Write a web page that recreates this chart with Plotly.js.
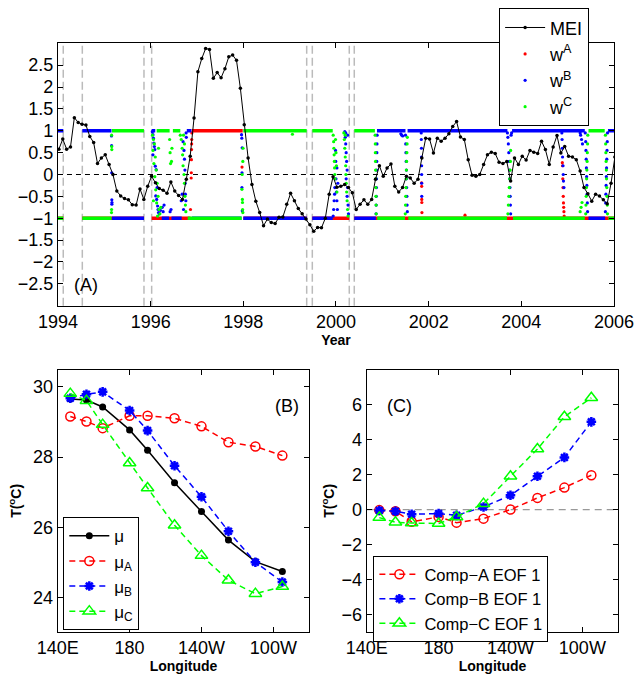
<!DOCTYPE html>
<html><head><meta charset="utf-8">
<script src="https://cdn.plot.ly/plotly-3.0.1.min.js"></script>
<style>html,body{margin:0;padding:0;background:#fff}#chart{width:635px;height:674px}</style>
</head><body><div id="chart"></div>
<script>
// ---------------- Panel A data ----------------
// MEI, monthly values starting Jan 1994
const mei = [0.58,0.81,0.58,0.63,1.30,1.19,1.15,1.13,0.87,0.73,0.25,0.38,
0.45,0.23,0.00,-0.38,-0.49,-0.55,-0.58,-0.69,-0.70,-0.33,-0.57,-0.27,
-0.04,-0.19,-0.32,-0.36,-0.43,-0.17,-0.38,-0.48,-0.57,-0.11,0.42,1.29,
2.35,2.65,2.88,2.86,2.20,2.33,2.21,2.42,2.69,2.73,2.61,1.97,
1.14,0.38,-0.23,-0.61,-0.87,-1.17,-1.02,-1.10,-1.12,-0.98,-0.97,-0.68,
-0.43,-0.60,-0.78,-0.90,-1.02,-1.15,-1.30,-1.21,-1.22,-1.00,-0.45,-0.05,
-0.29,-0.27,-0.23,-0.30,-0.42,-0.80,-0.68,-0.58,-0.68,-0.57,-0.11,0.20,
-0.04,0.15,0.24,-0.27,-0.40,-0.30,-0.04,-0.08,-0.20,-0.11,0.38,0.83,
0.81,0.49,0.83,0.76,0.83,0.93,1.10,1.21,0.86,0.80,0.34,-0.02,
-0.04,0.00,0.23,0.45,0.51,0.48,0.28,0.25,0.30,-0.15,0.38,0.23,
0.42,0.33,0.55,0.51,0.48,0.76,0.57,0.23,0.63,0.89,0.49,0.64,
0.42,0.40,0.34,0.08,-0.30,-0.44,-0.61,-0.45,-0.49,-0.58,-0.67,-0.20,
0.40];
const meiYear = mei.map((_, k) => 1994.02 + k / 12);

// data gaps (dashed grey lines)
const gapYears = [1994.114, 1994.525, 1995.856, 1996.022, 1999.368, 1999.489, 2000.287, 2000.395];

// weight runs: start year, end year, value
const wA_runStart = [1994.0, 1994.525, 1996.022, 1996.886, 1998.0, 1999.489, 2000.395];
const wA_runEnd   = [1994.114, 1995.856, 1996.86, 1997.987, 1999.368, 2000.287, 2006.0];
const wA_runVal   = [-1, -1, -1, 1, -1, -1, -1];

const wB_runStart = [1994.0, 1994.525, 1995.165, 1996.022, 1996.24, 1996.45, 1996.78, 1996.89, 1998.0, 1999.489, 2000.395, 2000.885, 2001.545, 2003.80, 2005.45, 2005.87];
const wB_runEnd   = [1994.114, 1995.155, 1995.856, 1996.10, 1996.40, 1996.67, 1996.88, 1997.96, 1999.368, 1999.93, 2000.86, 2001.50, 2003.70, 2005.37, 2005.81, 2006.0];
const wB_runVal   = [1, 1, -1, 1, -1, -1, 1, -1, -1, -1, -1, 1, 1, 1, -1, 1];

const wC_runStart = [1994.0, 1994.525, 1995.165, 1996.13, 1996.48, 1996.80, 1998.0, 1999.489, 2000.395, 2000.89, 2001.56, 2003.82, 2005.45, 2005.88];
const wC_runEnd   = [1994.114, 1995.155, 1995.856, 1996.41, 1996.64, 1997.965, 1999.368, 1999.93, 2000.84, 2001.49, 2003.69, 2005.37, 2005.80, 2006.0];
const wC_runVal   = [-1, -1, 1, 1, 1, -1, 1, 1, 1, -1, -1, -1, 1, -1];

// scattered samples during regime changes
const wA_dotT = [1996.86,1996.875,1996.878,1996.88,1996.883,1996.885,1996.887,1996.89,1997.972,
2001.848,2001.85,2001.852,2001.853,2001.855,2002.785,
2004.885,2004.89,2004.895,2004.9,2004.905,2004.91,2004.915,2004.92,2004.925];
const wA_dotV = [-0.8,-0.08,0.04,0.34,0.57,0.7,0.8,0.95,0.17,
-0.19,-0.27,-0.57,-0.64,-0.87,-0.93,
0.27,0.2,-0.1,-0.3,-0.5,-0.65,-0.75,-0.85,-0.95];

const wB_dotT = [1995.155,1995.158,1995.16,1995.162,1995.165,1995.163,
1996.036,1996.05,1996.06,1996.07,1996.08,1996.09,1996.05,1996.10,1996.12,1996.11,1996.14,1996.13,1996.15,1996.16,1996.17,1996.19,1996.21,
1996.25,1996.27,1996.29,1996.42,1996.44,
1996.66,1996.68,1996.70,1996.71,1996.72,1996.73,1996.74,1996.745,1996.75,1996.76,1996.77,1996.765,
1997.962,1997.968,1997.975,1997.972,1997.97,1997.978,
1999.94,1999.95,1999.96,1999.97,1999.975,1999.99,1999.995,2000.0,2000.01,2000.02,2000.03,2000.04,2000.02,
2000.19,2000.2,2000.21,2000.22,2000.23,2000.24,2000.22,2000.25,2000.24,2000.26,2000.27,2000.21,2000.25,
2000.865,2000.868,2000.87,2000.873,2000.875,2000.878,2000.88,2000.882,2000.885,2000.888,
2001.40,2001.42,2001.44,
2001.50,2001.505,2001.51,2001.515,2001.52,2001.52,2001.525,2001.53,2001.535,2001.54,
2001.84,2001.842,2001.845,2001.846,2001.848,2001.85,2001.85,2001.852,
2003.70,2003.71,2003.72,2003.73,2003.74,2003.745,2003.75,2003.755,2003.76,2003.765,2003.77,2003.78,2003.79,
2004.875,2004.88,2004.885,2004.89,2004.9,2004.905,2004.91,2004.92,
2005.27,2005.28,2005.3,2005.32,
2005.38,2005.39,2005.395,2005.4,2005.405,2005.41,2005.415,2005.42,2005.425,2005.43,
2005.815,2005.82,2005.825,2005.83,2005.835,2005.84,2005.845,2005.85,2005.855,2005.86];
const wB_dotV = [0.88,0.66,0.04,-0.58,-0.64,-0.68,
0.98,0.91,0.83,0.72,0.64,0.57,0.45,0.19,0.11,-0.49,-0.3,-0.57,-0.72,-0.8,-0.87,-0.9,-0.82,
-0.75,-0.85,-0.7,-0.85,-0.8,
-0.6,-0.45,0.75,-0.8,0.55,0.35,0.1,-0.2,-0.45,-0.6,0.85,0.95,
0.91,0.83,0.61,0.04,-0.3,-0.83,
-0.95,-0.8,-0.6,-0.45,-0.3,0.55,0.3,-0.1,-0.4,-0.6,-0.8,-0.2,0.15,
0.98,0.85,0.7,0.5,0.3,0.1,-0.1,-0.3,-0.5,-0.7,-0.9,0.95,0.9,
-0.9,-0.7,-0.5,-0.3,-0.1,0.1,0.3,0.5,0.7,0.9,
0.93,0.9,0.88,
0.9,0.7,0.5,0.3,0.1,-0.1,-0.3,-0.5,-0.7,-0.85,
0.95,0.8,0.6,0.4,0.2,0.0,-0.2,-0.5,
0.95,0.85,0.7,0.5,0.3,0.1,-0.1,-0.3,-0.5,-0.7,-0.9,0.9,0.95,
0.95,0.8,0.6,0.4,0.2,0.0,-0.15,-0.3,
0.95,0.9,0.8,0.7,
0.95,0.75,0.55,0.35,0.15,-0.05,-0.25,-0.45,-0.65,-0.85,
-0.85,-0.65,-0.45,-0.25,-0.05,0.15,0.35,0.55,0.75,0.95];

const wC_dotT = [1995.158,1995.16,1995.162,1995.155,1995.157,
1996.04,1996.06,1996.08,1996.05,1996.1,1996.07,1996.12,1996.09,1996.14,1996.11,1996.16,1996.13,1996.18,1996.15,1996.2,1996.22,1996.06,1996.17,
1996.41,1996.42,1996.43,1996.45,1996.46,
1996.64,1996.66,1996.68,1996.69,1996.70,1996.72,1996.73,1996.74,1996.75,1996.76,1996.71,1996.73,
1997.975,1997.97,1997.98,1997.982,1997.985,1997.99,1997.99,1997.995,
1999.06,
1999.94,1999.95,1999.955,1999.96,1999.965,1999.97,1999.975,1999.98,1999.99,2000.0,2000.01,2000.02,
2000.17,2000.18,2000.19,2000.2,2000.21,2000.215,2000.22,2000.23,2000.24,2000.25,2000.26,2000.2,
2000.845,2000.848,2000.85,2000.853,2000.855,2000.858,2000.86,2000.863,2000.866,2000.868,
2001.495,2001.5,2001.505,2001.51,2001.515,2001.52,2001.525,2001.53,2001.535,2001.54,
2003.71,2003.72,2003.73,2003.74,2003.75,2003.76,2003.765,2003.77,
2005.27,2005.29,2005.31,
2005.39,2005.395,2005.4,2005.405,2005.41,2005.415,2005.42,2005.425,2005.43,2005.435,
2005.815,2005.82,2005.825,2005.83,2005.835,2005.84,2005.845,2005.85,2005.855,2005.86];
const wC_dotV = [0.9,0.64,0.57,-0.87,-0.8,
0.9,0.8,0.7,0.55,0.4,0.25,0.1,-0.05,-0.2,-0.35,-0.5,-0.65,-0.8,-0.95,-0.9,-0.75,-0.6,0.6,
0.8,0.5,0.25,0.3,0.6,
0.9,0.8,0.6,0.45,0.2,0.0,-0.2,-0.5,-0.7,-0.85,0.9,0.7,
0.0,-0.34,-0.57,-0.64,-0.8,-0.87,0.3,0.6,
0.92,
0.9,0.75,0.6,0.45,0.3,0.15,0.0,-0.1,0.8,0.5,0.2,-0.4,
0.95,0.8,0.6,0.4,0.2,0.0,-0.2,-0.4,-0.6,-0.8,-0.95,0.9,
0.9,0.7,0.5,0.3,0.1,-0.1,-0.3,-0.5,-0.7,-0.9,
-0.9,-0.7,-0.5,-0.3,-0.1,0.1,0.3,0.5,0.7,0.85,
-0.9,-0.7,-0.5,-0.3,-0.1,0.1,0.3,0.55,
-0.85,-0.75,-0.64,
-0.9,-0.7,-0.5,-0.3,-0.1,0.1,0.3,0.5,0.7,0.9,
0.9,0.7,0.5,0.3,0.1,-0.1,-0.3,-0.5,-0.7,-0.9];

// ---------------- Panels B and C data ----------------
const lon = [147, 156, 165, 180, 190, 205, 220, 235, 250, 265];
const lonTickVals = [140, 180, 220, 260];
const lonTickText = ['140E', '180', '140W', '100W'];
const mu  = [29.65, 29.62, 29.42, 28.77, 28.19, 27.27, 26.45, 25.64, 25.03, 24.75];
const muA = [29.15, 29.01, 28.82, 29.17, 29.17, 29.10, 28.87, 28.42, 28.30, 28.04];
const muB = [29.67, 29.78, 29.85, 29.32, 28.75, 27.75, 26.87, 25.89, 25.01, 24.45];
const muC = [29.80, 29.60, 28.92, 27.83, 27.12, 26.06, 25.20, 24.50, 24.12, 24.32];
const eofA = [-0.03, -0.10, -0.70, -0.42, -0.75, -0.52, 0.00, 0.67, 1.26, 1.97];
const eofB = [-0.05, -0.10, -0.27, -0.23, -0.33, 0.15, 0.82, 1.91, 2.99, 5.03];
const eofC = [-0.46, -0.73, -0.77, -0.80, -0.42, 0.34, 1.91, 3.47, 5.32, 6.41];

// ---------------- build ----------------
const RED = '#ff0000', BLUE = '#0000ff', GREEN = '#00ff00';
function runXY(s, e, v) {
  const x = [], y = [];
  for (let i = 0; i < s.length; i++) { x.push(s[i], e[i], null); y.push(v[i], v[i], null); }
  return {x, y};
}
function runTrace(s, e, v, color, grp) {
  const r = runXY(s, e, v);
  return {x: r.x, y: r.y, mode: 'lines', line: {color, width: 3.5}, hoverinfo: 'skip',
    showlegend: false, legendgroup: grp, xaxis: 'x', yaxis: 'y'};
}
function dotTrace(t, v, color, name, grp, rank) {
  return {x: t, y: v, mode: 'markers', marker: {color, size: 3.2}, name, legendgroup: grp,
    legendrank: rank, xaxis: 'x', yaxis: 'y', legend: 'legend'};
}
const dashB = '6px,4px';
const traces = [
  runTrace(wA_runStart, wA_runEnd, wA_runVal, RED, 'a'),
  dotTrace(wA_dotT, wA_dotV, RED, 'w<sup>A</sup>', 'a', 2),
  runTrace(wB_runStart, wB_runEnd, wB_runVal, BLUE, 'b'),
  dotTrace(wB_dotT, wB_dotV, BLUE, 'w<sup>B</sup>', 'b', 3),
  runTrace(wC_runStart, wC_runEnd, wC_runVal, GREEN, 'c'),
  dotTrace(wC_dotT, wC_dotV, GREEN, 'w<sup>C</sup>', 'c', 4),
  {x: meiYear, y: mei, mode: 'lines+markers', name: 'MEI', line: {color: '#000', width: 1},
   marker: {color: '#000', size: 3.5}, legendrank: 1, xaxis: 'x', yaxis: 'y', legend: 'legend'},
  // Panel B
  {x: lon, y: mu, mode: 'lines+markers', name: 'μ', line: {color: '#000', width: 1.5},
   marker: {color: '#000', size: 7, symbol: 'circle'}, xaxis: 'x2', yaxis: 'y2', legend: 'legend2'},
  {x: lon, y: muA, mode: 'lines+markers', name: 'μ<sub>A</sub>', line: {color: RED, width: 1.5, dash: dashB},
   marker: {color: RED, size: 9, symbol: 'circle-open', line: {width: 1.5}}, xaxis: 'x2', yaxis: 'y2', legend: 'legend2'},
  {x: lon, y: muB, mode: 'lines+markers', name: 'μ<sub>B</sub>', line: {color: BLUE, width: 1.5, dash: dashB},
   marker: {color: BLUE, size: 8, symbol: 'asterisk', line: {color: BLUE, width: 2.5}}, xaxis: 'x2', yaxis: 'y2', legend: 'legend2'},
  {x: lon, y: muC, mode: 'lines+markers', name: 'μ<sub>C</sub>', line: {color: GREEN, width: 1.5, dash: dashB},
   marker: {color: GREEN, size: 11, symbol: 'triangle-up-open', line: {width: 1.5}}, xaxis: 'x2', yaxis: 'y2', legend: 'legend2'},
  // Panel C
  {x: lon, y: eofA, mode: 'lines+markers', name: 'Comp−A EOF 1', line: {color: RED, width: 1.5, dash: dashB},
   marker: {color: RED, size: 9, symbol: 'circle-open', line: {width: 1.5}}, xaxis: 'x3', yaxis: 'y3', legend: 'legend3'},
  {x: lon, y: eofB, mode: 'lines+markers', name: 'Comp−B EOF 1', line: {color: BLUE, width: 1.5, dash: dashB},
   marker: {color: BLUE, size: 8, symbol: 'asterisk', line: {color: BLUE, width: 2.5}}, xaxis: 'x3', yaxis: 'y3', legend: 'legend3'},
  {x: lon, y: eofC, mode: 'lines+markers', name: 'Comp−C EOF 1', line: {color: GREEN, width: 1.5, dash: dashB},
   marker: {color: GREEN, size: 11, symbol: 'triangle-up-open', line: {width: 1.5}}, xaxis: 'x3', yaxis: 'y3', legend: 'legend3'}
];

const FONT = 'Liberation Sans, Arial, Helvetica, sans-serif';
const ax = {showline: true, linecolor: '#000', linewidth: 1, mirror: 'ticks', ticks: 'inside', ticklen: 5,
  tickcolor: '#000', showgrid: false, zeroline: false, tickfont: {size: 18, color: '#000', family: FONT}};
const titleFont = {size: 14, color: '#000', family: FONT};

const shapes = [
  {type: 'line', xref: 'x', yref: 'y', x0: 1994, x1: 2006, y0: 0, y1: 0, layer: 'below',
   line: {color: '#000', width: 1, dash: '5px,4px'}},
  {type: 'line', xref: 'x3', yref: 'y3', x0: 140, x1: 280, y0: 0, y1: 0, layer: 'below',
   line: {color: '#999', width: 1.2, dash: '7px,5px'}}
];
gapYears.forEach(g => shapes.push({type: 'line', xref: 'x', yref: 'y domain', x0: g, x1: g, y0: 0, y1: 1,
  layer: 'below', line: {color: '#bbbbbb', width: 1.5, dash: '8px,4px'}}));

const legendBase = {bgcolor: '#fff', bordercolor: '#000', borderwidth: 1, xanchor: 'left', yanchor: 'top',
  font: {size: 18, color: '#000', family: FONT}, itemwidth: 40, tracegroupgap: 0, itemsizing: 'trace'};

const layout = {
  width: 635, height: 674, margin: {l: 0, r: 0, t: 0, b: 0}, paper_bgcolor: '#fff', plot_bgcolor: '#fff',
  font: {family: FONT, color: '#000'},
  xaxis: Object.assign({}, ax, {domain: [0.0913, 0.9669], range: [1994, 2006], tickvals: [1994,1996,1998,2000,2002,2004,2006],
    anchor: 'y', title: {text: '<b>Year</b>', font: titleFont, standoff: 1}}),
  yaxis: Object.assign({}, ax, {domain: [0.5464, 0.9358], range: [-3, 3],
    tickvals: [-2.5,-2,-1.5,-1,-0.5,0,0.5,1,1.5,2,2.5], anchor: 'x'}),
  xaxis2: Object.assign({}, ax, {domain: [0.0909, 0.4871], range: [140, 280], tickvals: lonTickVals, ticktext: lonTickText,
    anchor: 'y2', title: {text: '<b>Longitude</b>', font: titleFont, standoff: 1}}),
  yaxis2: Object.assign({}, ax, {domain: [0.0628, 0.4510], range: [23.04, 30.47], tickvals: [24, 26, 28, 30],
    anchor: 'x2', title: {text: '<b>T(<sup>o</sup>C)</b>', font: titleFont, standoff: 8}}),
  xaxis3: Object.assign({}, ax, {domain: [0.5775, 0.9737], range: [140, 280], tickvals: lonTickVals, ticktext: lonTickText,
    anchor: 'y3', title: {text: '<b>Longitude</b>', font: titleFont, standoff: 1}}),
  yaxis3: Object.assign({}, ax, {domain: [0.0628, 0.4510], range: [-7, 8], tickvals: [-6,-4,-2,0,2,4,6],
    anchor: 'x3', title: {text: '<b>T(<sup>o</sup>C)</b>', font: titleFont, standoff: 3}}),
  showlegend: true,
  legend: Object.assign({}, legendBase, {x: 0.786, y: 0.9877}),
  legend2: Object.assign({}, legendBase, {x: 0.0997, y: 0.2325, font: {size: 17, color: '#000', family: FONT}}),
  legend3: Object.assign({}, legendBase, {x: 0.588, y: 0.175, font: {size: 16.5, color: '#000', family: FONT}}),
  shapes,
  annotations: [
    {text: '(A)', xref: 'x domain', yref: 'y domain', x: 0.025, y: 0.079, xanchor: 'left', yanchor: 'middle',
     showarrow: false, font: {size: 18, color: '#000', family: FONT}},
    {text: '(B)', xref: 'x2 domain', yref: 'y2 domain', x: 0.856, y: 0.862, xanchor: 'left', yanchor: 'middle',
     showarrow: false, font: {size: 18, color: '#000', family: FONT}},
    {text: '(C)', xref: 'x3 domain', yref: 'y3 domain', x: 0.073, y: 0.862, xanchor: 'left', yanchor: 'middle',
     showarrow: false, font: {size: 18, color: '#000', family: FONT}}
  ]
};
Plotly.newPlot('chart', traces, layout, {staticPlot: true, displayModeBar: false});
</script></body></html>
